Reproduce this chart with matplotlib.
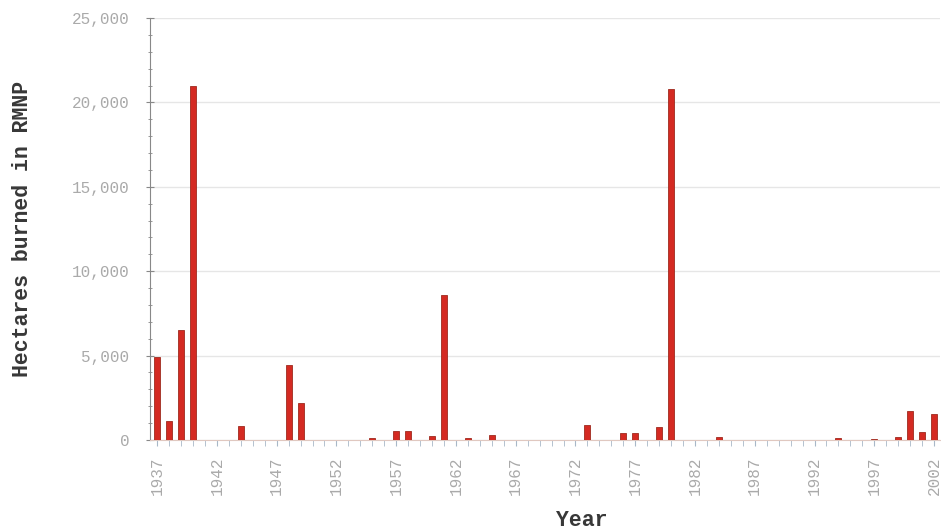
import matplotlib.pyplot as plt
import numpy as np
from matplotlib.ticker import MultipleLocator, FuncFormatter

# hectares burned per year (0 where no bar)
years = list(range(1937, 2003))
burned = {
    1937: 4900, 1938: 1100, 1939: 6500, 1940: 21000,
    1944: 850, 1948: 4450, 1949: 2200,
    1955: 100, 1957: 550, 1958: 550,
    1960: 250, 1961: 8600, 1963: 100, 1965: 300,
    1973: 900, 1976: 420, 1977: 420, 1979: 770, 1980: 20800,
    1984: 200, 1994: 100, 1997: 80, 1999: 200,
    2000: 1700, 2001: 450, 2002: 1550,
}
hectares = [burned.get(y, 0) for y in years]
label_years = list(range(1937, 2003, 5))

plt.rcParams['font.family'] = ['Liberation Mono', 'DejaVu Sans Mono']

fig = plt.figure(figsize=(9.41, 5.31), dpi=100)
ax = fig.add_axes([150 / 941, 1 - 440 / 531, 790 / 941, 422 / 531])

ax.bar(years, hectares, width=0.5, color="#d42a22", edgecolor="#9e2a1e",
       linewidth=0.6, zorder=3)

ax.set_xlim(1936.4, 2002.5)
ax.set_ylim(0, 25000)

ax.yaxis.set_major_locator(MultipleLocator(5000))
ax.yaxis.set_minor_locator(MultipleLocator(1000))
ax.yaxis.set_major_formatter(FuncFormatter(lambda v, p: f"{int(v):,}"))
ax.set_xticks(label_years)
ax.set_xticks(years, minor=True)
ax.set_xticklabels([str(y) for y in label_years], rotation=90)

ax.grid(axis="y", color="#e6e6e6", linewidth=1.0, zorder=0)
ax.tick_params(axis="y", which="both", direction="inout", colors="#888888",
               labelcolor="#aaaaaa", labelsize=11.5, pad=12)
ax.tick_params(axis="y", which="major", length=6)
ax.tick_params(axis="y", which="minor", length=3)
ax.tick_params(axis="x", which="both", direction="out", colors="#a8b8c8",
               labelcolor="#aaaaaa", labelsize=11.5, length=4, pad=8)

for s in ["top", "right"]:
    ax.spines[s].set_visible(False)
ax.spines["left"].set_color("#888888")
ax.spines["bottom"].set_color("#e0c8c0")

ax.set_xlabel("Year", fontsize=15.5, fontweight="bold", color="#383838")
ax.set_ylabel("Hectares burned in RMNP", fontsize=15.5, fontweight="bold",
              color="#383838")
ax.xaxis.set_label_coords(0.546, -0.165)
ax.yaxis.set_label_coords(-0.148, 0.5)

fig.savefig("out.png", dpi=100)
